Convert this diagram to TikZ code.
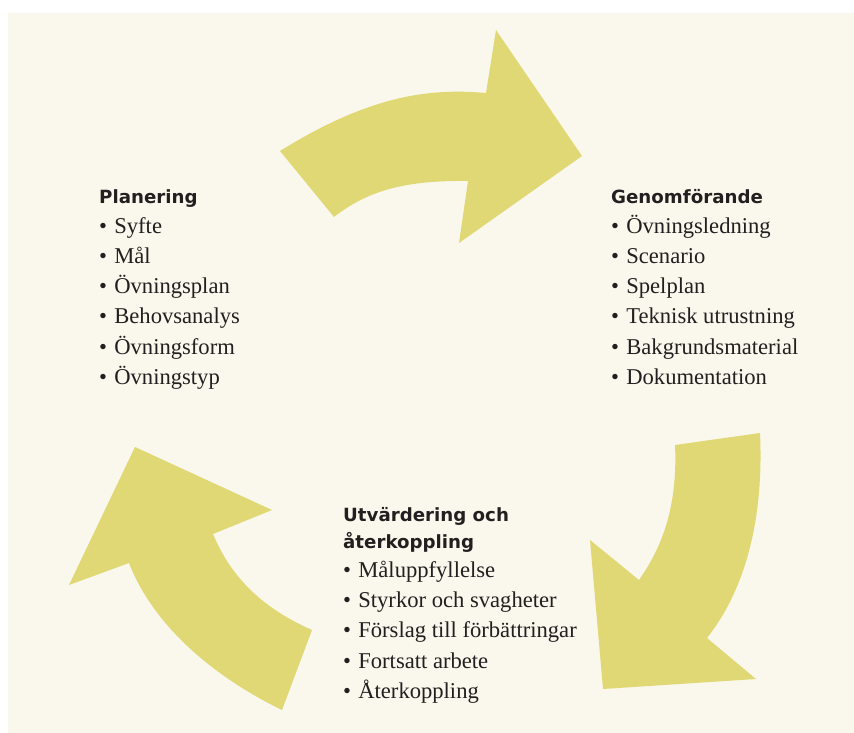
\documentclass[tikz,border=0pt]{standalone}
\usepackage{fontspec}
\setmainfont{Liberation Serif}
\newfontfamily\headfont{DejaVu Sans}
\definecolor{bgcol}{HTML}{FAF8EC}
\definecolor{arrowcol}{HTML}{E0D875}
\definecolor{txtcol}{HTML}{231F20}
\newcommand{\hd}[1]{{\headfont\bfseries\fontsize{18.2}{30}\selectfont #1}}
\newcommand{\bl}{\textbullet\hspace{0.32em}}
\tikzset{
  bigarrow/.style={fill=arrowcol, draw=none},
  blocktext/.style={anchor=base west, inner sep=0pt, text=txtcol,
    font=\fontsize{22.6}{30.2}\selectfont}
}
\begin{document}
\begin{tikzpicture}[x=1pt,y=-1pt]
\useasboundingbox (0,0) rectangle (854,733);
\fill[bgcol] (8,13) rectangle (854,733);

% top arrow
\fill[bigarrow] (280,151) -- (334,217)
  .. controls (365,193) and (400,180) .. (468,181)
  -- (459,243) -- (582,156) -- (496,30) -- (486,93)
  .. controls (430,88) and (370,95) .. (280,151) -- cycle;

% right arrow
\fill[bigarrow] (675,445) -- (760,433)
  .. controls (764,520) and (745,590) .. (707,638)
  -- (756,679) -- (603,689) -- (590,540) -- (639,580)
  .. controls (660,550) and (678,510) .. (675,445) -- cycle;

% left arrow
\fill[bigarrow] (312,630) -- (282,710)
  .. controls (220,680) and (155,630) .. (129,563)
  -- (69,585) -- (135,447) -- (272,510) -- (213,534)
  .. controls (228,570) and (255,605) .. (312,630) -- cycle;

\node[blocktext] (plan) at (99,203) {\begin{tabular}[t]{@{}l@{}}
\hd{Planering}\\
\bl Syfte\\
\bl Mål\\
\bl Övningsplan\\
\bl Behovsanalys\\
\bl Övningsform\\
\bl Övningstyp
\end{tabular}};

\node[blocktext] (genom) at (611,203) {\begin{tabular}[t]{@{}l@{}}
\hd{Genomförande}\\
\bl Övningsledning\\
\bl Scenario\\
\bl Spelplan\\
\bl Teknisk utrustning\\
\bl Bakgrundsmaterial\\
\bl Dokumentation
\end{tabular}};

\node[blocktext] (utv) at (343,521) {\begin{tabular}[t]{@{}l@{}}
\hd{Utvärdering och}\\[-3pt]
\hd{återkoppling}\\[-1pt]
\bl Måluppfyllelse\\
\bl Styrkor och svagheter\\
\bl Förslag till förbättringar\\
\bl Fortsatt arbete\\
\bl Återkoppling
\end{tabular}};
\end{tikzpicture}
\end{document}
